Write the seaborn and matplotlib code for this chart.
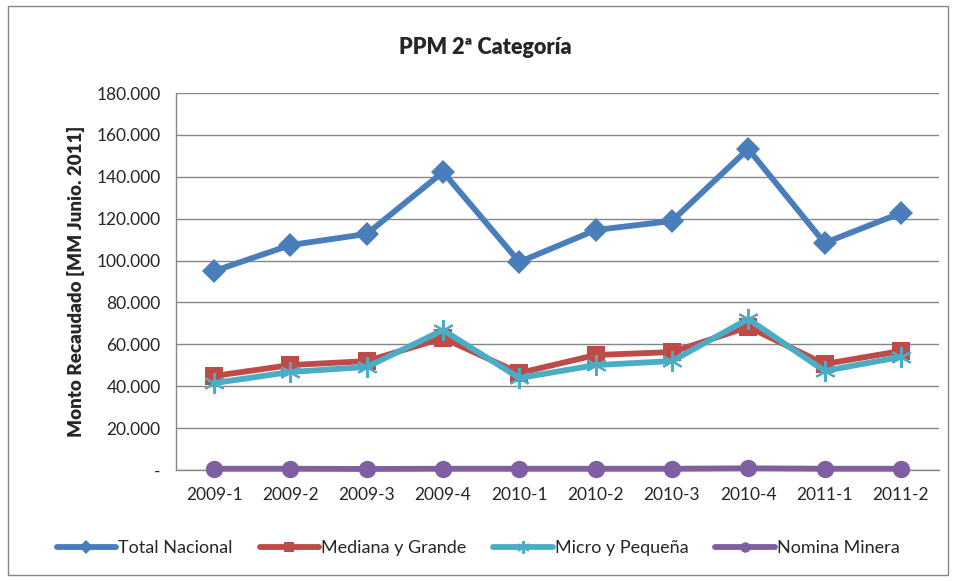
import matplotlib
matplotlib.use("Agg")
import matplotlib.pyplot as plt
import matplotlib.patches as mpatches
import matplotlib.ticker as mticker
import pandas as pd
import seaborn as sns

# datos (MM Junio 2011)
periodos = ["2009-1", "2009-2", "2009-3", "2009-4", "2010-1",
            "2010-2", "2010-3", "2010-4", "2011-1", "2011-2"]
total_nacional = [95000, 107400, 112700, 142300, 99300, 114600, 118900, 153300, 108400, 122700]
mediana_grande = [44900, 50100, 52000, 63000, 46300, 54900, 56300, 68300, 50600, 56800]
micro_pequena = [41500, 46800, 49200, 66800, 43900, 50100, 52000, 72100, 47300, 54000]
nomina_minera = [600, 600, 500, 600, 600, 600, 600, 800, 600, 600]

series = {
    "Total Nacional": total_nacional,
    "Mediana y Grande": mediana_grande,
    "Micro y Pequeña": micro_pequena,
    "Nomina Minera": nomina_minera,
}
colores = {
    "Total Nacional": "#4a7ebb",
    "Mediana y Grande": "#be4b48",
    "Micro y Pequeña": "#4bacc6",
    "Nomina Minera": "#7f5fa1",
}
marcadores = {
    "Total Nacional": "D",
    "Mediana y Grande": "s",
    "Micro y Pequeña": (6, 2, 0),
    "Nomina Minera": "o",
}
tamanos = {"Total Nacional": 12, "Mediana y Grande": 12.5, "Micro y Pequeña": 15, "Nomina Minera": 12.5}

sns.set_style("white")
plt.rcParams["font.family"] = ["Lato", "DejaVu Sans"]

fig = plt.figure(figsize=(9.56, 5.81), dpi=100)
ax = fig.add_axes([176 / 956, 1 - 470 / 581, (939 - 176) / 956, (470 - 93) / 581])

x = list(range(len(periodos)))
for nombre, valores in series.items():
    df = pd.DataFrame({"x": x, "y": valores})
    m = marcadores[nombre]
    sns.lineplot(data=df, x="x", y="y", ax=ax, color=colores[nombre], lw=4.2,
                 marker=m, ms=tamanos[nombre],
                 mec=colores[nombre], mfc=colores[nombre],
                 mew=1.5 if m == (6, 2, 0) else 0,
                 label=nombre, zorder=3, clip_on=False)

ax.set_xlim(-0.5, len(periodos) - 0.5)
ax.set_ylim(0, 180000)
ax.set_xticks(x)
ax.set_xticklabels(periodos, fontsize=12.5)
ax.set_xticks([i - 0.5 for i in range(len(periodos) + 1)], minor=True)
ax.tick_params(axis="x", which="major", length=0, pad=12)
ax.tick_params(axis="x", which="minor", length=5, color="#868686", direction="in")

ax.yaxis.set_major_locator(mticker.MultipleLocator(20000))
ax.yaxis.set_major_formatter(mticker.FuncFormatter(
    lambda v, p: "-" if v == 0 else f"{int(v):,}".replace(",", ".")))
ax.tick_params(axis="y", labelsize=12.5, length=5, color="#868686", direction="out", pad=6)
ax.grid(axis="y", color="#868686", lw=1)
ax.set_axisbelow(True)

for s in ["top", "right"]:
    ax.spines[s].set_visible(False)
for s in ["left", "bottom"]:
    ax.spines[s].set_color("#868686")
    ax.spines[s].set_linewidth(1)

ax.set_xlabel("")
ax.set_ylabel("Monto Recaudado [MM Junio. 2011]", fontsize=13.5, fontweight="heavy", labelpad=8)
fig.text(485 / 956, 1 - 47 / 581, "PPM 2ª Categoría", ha="center", va="center",
         fontsize=15.5, fontweight="heavy")

ax.legend(loc="center", bbox_to_anchor=(0.5, 1 - 548 / 581), bbox_transform=fig.transFigure,
          ncol=4, frameon=False, fontsize=13, handlelength=3.3, handletextpad=0.1,
          columnspacing=1.5, markerscale=0.6)

fig.patches.append(mpatches.Rectangle((8 / 956, 6 / 581), 940 / 956, 569 / 581,
                                      transform=fig.transFigure, fill=False,
                                      edgecolor="#868686", lw=1))

fig.savefig("out.png", dpi=100)
